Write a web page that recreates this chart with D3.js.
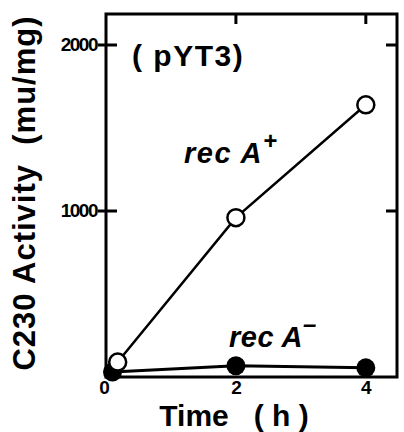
<!DOCTYPE html>
<html>
<head>
<meta charset="utf-8">
<script src="https://cdn.jsdelivr.net/npm/d3@7"></script>
<style>
  body { margin: 0; background: #fff; }
  text { font-family: "Liberation Sans", Arial, sans-serif; font-weight: bold; fill: #000; }
</style>
</head>
<body>
<div id="chart"></div>
<script>
// data
var hours = [0, 2, 4];
var recAPlus = [{t: 0.18, v: 90}, {t: 2, v: 960}, {t: 4, v: 1640}];
var recAMinus = [{t: 0.1, v: 30}, {t: 2, v: 68}, {t: 4, v: 55}];
var yTicks = [1000, 2000];
var topTicks = [2, 4];

var svgWidth = 404;
var svgHeight = 432;

var chartMargin = {
    top: 14,
    right: 7,
    bottom: 55,
    left: 106
};

var chartWidth = svgWidth - chartMargin.left - chartMargin.right;
var chartHeight = svgHeight - chartMargin.top - chartMargin.bottom;

var svg = d3.select("#chart")
    .append("svg")
    .attr("width", svgWidth)
    .attr("height", svgHeight);

var chartGroup = svg.append("g")
    .attr("transform", `translate(${chartMargin.left}, ${chartMargin.top})`);

var xScale = d3.scaleLinear()
    .domain([0, 4.48])
    .range([0, chartWidth]);

var yScale = d3.scaleLinear()
    .domain([0, 2187])
    .range([chartHeight, 0]);

// frame
chartGroup.append("rect")
    .attr("x", 0)
    .attr("y", 0)
    .attr("width", chartWidth)
    .attr("height", chartHeight)
    .attr("fill", "none")
    .attr("stroke", "#000")
    .attr("stroke-width", 3);

// left axis labels
var leftAxis = chartGroup.append("g")
    .call(d3.axisLeft(yScale).tickValues(yTicks).tickSize(8).tickPadding(1).tickFormat(d3.format("d")));
leftAxis.select(".domain").remove();
leftAxis.selectAll(".tick line").remove();
leftAxis.selectAll(".tick text")
    .attr("font-size", 19)
    .attr("letter-spacing", -1.5)
    .attr("dy", "0.3em");

// left ticks cross the frame, right ticks point inward
chartGroup.selectAll(".ytick")
    .data(yTicks)
    .enter()
    .append("path")
    .attr("class", "ytick")
    .attr("d", d => `M-8,${yScale(d)}H11M${chartWidth - 11},${yScale(d)}H${chartWidth}`)
    .attr("stroke", "#000")
    .attr("stroke-width", 3);

// top ticks (inward)
chartGroup.selectAll(".xtick")
    .data(topTicks)
    .enter()
    .append("line")
    .attr("class", "xtick")
    .attr("x1", d => xScale(d))
    .attr("x2", d => xScale(d))
    .attr("y1", 0)
    .attr("y2", 10)
    .attr("stroke", "#000")
    .attr("stroke-width", 3);

// bottom labels
var bottomAxis = chartGroup.append("g")
    .attr("transform", `translate(0, ${chartHeight})`)
    .call(d3.axisBottom(xScale).tickValues(hours).tickSize(0).tickPadding(4).tickFormat(d3.format("d")));
bottomAxis.select(".domain").remove();
bottomAxis.selectAll(".tick text")
    .attr("font-size", 19);
bottomAxis.selectAll(".tick").filter(d => d === 0)
    .select("text").attr("x", -2);

var line = d3.line()
    .x(d => xScale(d.t))
    .y(d => yScale(d.v));

// recA- (filled)
chartGroup.append("path")
    .datum(recAMinus)
    .attr("d", line)
    .attr("fill", "none")
    .attr("stroke", "#000")
    .attr("stroke-width", 3);

chartGroup.selectAll(".minus")
    .data(recAMinus)
    .enter()
    .append("circle")
    .attr("class", "minus")
    .attr("cx", d => xScale(d.t))
    .attr("cy", d => yScale(d.v))
    .attr("r", 9.5)
    .attr("fill", "#000");

// recA+ (open)
chartGroup.append("path")
    .datum(recAPlus)
    .attr("d", line)
    .attr("fill", "none")
    .attr("stroke", "#000")
    .attr("stroke-width", 2.5);

chartGroup.selectAll(".plus")
    .data(recAPlus)
    .enter()
    .append("circle")
    .attr("class", "plus")
    .attr("cx", d => xScale(d.t))
    .attr("cy", d => yScale(d.v))
    .attr("r", 8.5)
    .attr("fill", "#fff")
    .attr("stroke", "#000")
    .attr("stroke-width", 2.5);

// annotations
chartGroup.append("text")
    .attr("x", 26)
    .attr("y", 52)
    .attr("font-size", 30)
    .attr("letter-spacing", 1.5)
    .text("( pYT3)");

var plusLabel = chartGroup.append("text")
    .attr("x", 78)
    .attr("y", 149)
    .attr("font-size", 29)
    .attr("font-style", "italic")
    .attr("letter-spacing", 1.5);
plusLabel.append("tspan").text("rec A");
plusLabel.append("tspan").attr("dy", -14).attr("font-size", 24).text("+");

var minusLabel = chartGroup.append("text")
    .attr("x", 123)
    .attr("y", 333)
    .attr("font-size", 29)
    .attr("font-style", "italic")
    .attr("letter-spacing", 0.5);
minusLabel.append("tspan").text("rec A");
minusLabel.append("tspan").attr("dy", -15).attr("font-size", 24).text("\u2013");

// axis titles
svg.append("text")
    .attr("x", 234)
    .attr("y", 426)
    .attr("text-anchor", "middle")
    .attr("font-size", 30)
    .attr("xml:space", "preserve")
    .text("Time   ( h )");

svg.append("text")
    .attr("transform", "rotate(-90)")
    .attr("x", -193)
    .attr("y", 35)
    .attr("text-anchor", "middle")
    .attr("font-size", 31)
    .attr("letter-spacing", 1)
    .attr("xml:space", "preserve")
    .text("C230 Activity  (mu/mg)");
</script>
</body>
</html>
